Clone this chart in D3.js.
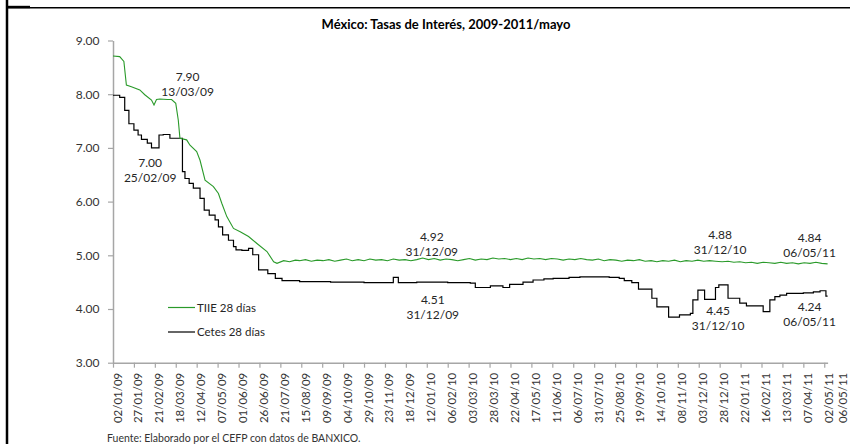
<!DOCTYPE html>
<html>
<head>
<meta charset="utf-8">
<script src="https://cdn.jsdelivr.net/npm/d3@7"></script>
<style>
  body { margin: 0; background: #fff; }
  svg { display: block; font-family: Lato, "Liberation Sans", sans-serif; }
</style>
</head>
<body>
<script>
// etiquetas del eje x (cada 25 días) y la última fecha del periodo
const tickLabels = ["02/01/09","27/01/09","21/02/09","18/03/09","12/04/09","07/05/09","01/06/09","26/06/09",
  "21/07/09","15/08/09","09/09/09","04/10/09","29/10/09","23/11/09","18/12/09","12/01/10","06/02/10",
  "03/03/10","28/03/10","22/04/10","17/05/10","11/06/10","06/07/10","31/07/10","25/08/10","19/09/10",
  "14/10/10","08/11/10","03/12/10","28/12/10","22/01/11","16/02/11","13/03/11","07/04/11","02/05/11"];
const lastLabel = "06/05/11";
const yTicks = [3, 4, 5, 6, 7, 8, 9];

// TIIE 28 días
const tiie = [
  ["02/01/09",8.71],["10/01/09",8.70],["15/01/09",8.61],["18/01/09",8.17],["24/01/09",8.14],["03/02/09",8.08],
  ["09/02/09",7.99],["17/02/09",7.89],["20/02/09",7.80],["23/02/09",7.90],["27/02/09",7.91],["08/03/09",7.90],
  ["13/03/09",7.90],["18/03/09",7.83],["21/03/09",7.52],["23/03/09",7.18],["31/03/09",7.15],["04/04/09",7.05],
  ["12/04/09",6.93],["16/04/09",6.77],["22/04/09",6.40],["02/05/09",6.28],["08/05/09",6.15],["12/05/09",5.97],
  ["18/05/09",5.72],["26/05/09",5.50],["03/06/09",5.44],["13/06/09",5.35],["23/06/09",5.22],["05/07/09",5.07],
  ["13/07/09",4.88],["17/07/09",4.85],["25/07/09",4.90],["01/08/09",4.88],["08/08/09",4.91],["13/08/09",4.90],
  ["20/08/09",4.92],["27/08/09",4.89],["03/09/09",4.91],["10/09/09",4.90],["17/09/09",4.92],["24/09/09",4.89],
  ["01/10/09",4.91],["08/10/09",4.93],["15/10/09",4.90],["22/10/09",4.92],["29/10/09",4.90],["05/11/09",4.93],
  ["12/11/09",4.91],["19/11/09",4.92],["26/11/09",4.90],["03/12/09",4.93],["10/12/09",4.91],["17/12/09",4.92],
  ["24/12/09",4.90],["31/12/09",4.92],["07/01/10",4.95],["14/01/10",4.92],["21/01/10",4.94],["28/01/10",4.91],
  ["04/02/10",4.93],["11/02/10",4.92],["18/02/10",4.90],["25/02/10",4.92],["04/03/10",4.94],["11/03/10",4.91],
  ["18/03/10",4.93],["25/03/10",4.92],["01/04/10",4.95],["08/04/10",4.93],["15/04/10",4.94],["22/04/10",4.92],
  ["29/04/10",4.94],["06/05/10",4.92],["13/05/10",4.95],["20/05/10",4.93],["27/05/10",4.94],["03/06/10",4.92],
  ["10/06/10",4.94],["17/06/10",4.93],["24/06/10",4.91],["01/07/10",4.93],["08/07/10",4.92],["15/07/10",4.94],
  ["22/07/10",4.92],["29/07/10",4.91],["05/08/10",4.93],["12/08/10",4.90],["19/08/10",4.92],["26/08/10",4.91],
  ["02/09/10",4.89],["09/09/10",4.91],["16/09/10",4.90],["23/09/10",4.92],["30/09/10",4.89],["07/10/10",4.90],
  ["14/10/10",4.88],["21/10/10",4.90],["28/10/10",4.89],["04/11/10",4.91],["11/11/10",4.88],["18/11/10",4.90],
  ["25/11/10",4.89],["02/12/10",4.91],["09/12/10",4.89],["16/12/10",4.90],["23/12/10",4.89],["31/12/10",4.88],
  ["07/01/11",4.89],["14/01/11",4.87],["21/01/11",4.88],["28/01/11",4.86],["04/02/11",4.87],["11/02/11",4.85],
  ["18/02/11",4.87],["25/02/11",4.86],["04/03/11",4.85],["11/03/11",4.87],["18/03/11",4.85],["25/03/11",4.86],
  ["01/04/11",4.84],["08/04/11",4.86],["15/04/11",4.85],["22/04/11",4.87],["29/04/11",4.85],["06/05/11",4.84]
];

// Cetes 28 días (escalonado)
const cetes = [
  ["02/01/09",7.98],["10/01/09",7.94],["16/01/09",7.70],["21/01/09",7.45],["27/01/09",7.33],["01/02/09",7.24],
  ["05/02/09",7.16],["12/02/09",7.09],["17/02/09",7.00],["26/02/09",7.24],["03/03/09",7.25],["11/03/09",7.18],
  ["26/03/09",6.56],["29/03/09",6.43],["03/04/09",6.34],["08/04/09",6.25],["16/04/09",6.06],["21/04/09",5.84],
  ["27/04/09",5.75],["04/05/09",5.66],["08/05/09",5.53],["13/05/09",5.38],["20/05/09",5.28],["26/05/09",5.16],
  ["29/05/09",5.10],["05/06/09",5.09],["13/06/09",5.13],["18/06/09",5.01],["25/06/09",4.73],["06/07/09",4.66],
  ["15/07/09",4.57],["23/07/09",4.53],["13/08/09",4.51],["19/09/09",4.50],["29/10/09",4.49],["03/12/09",4.59],
  ["09/12/09",4.49],["31/12/09",4.50],["06/02/10",4.49],["05/03/10",4.48],["11/03/10",4.40],["29/03/10",4.43],
  ["13/04/10",4.40],["21/04/10",4.46],["07/05/10",4.50],["19/05/10",4.54],["01/06/10",4.56],["12/06/10",4.57],
  ["01/07/10",4.59],["14/07/10",4.60],["18/08/10",4.59],["30/08/10",4.57],["05/09/10",4.53],["14/09/10",4.49],
  ["22/09/10",4.37],["08/10/10",4.20],["14/10/10",4.04],["28/10/10",3.85],["10/11/10",3.89],["23/11/10",3.92],
  ["26/11/10",4.17],["02/12/10",4.35],["10/12/10",4.18],["23/12/10",4.40],["27/12/10",4.45],["07/01/11",4.20],
  ["21/01/11",4.11],["29/01/11",4.06],["18/02/11",3.95],["26/02/11",4.17],["04/03/11",4.23],["10/03/11",4.26],
  ["18/03/11",4.29],["07/04/11",4.30],["19/04/11",4.32],["27/04/11",4.34],["04/05/11",4.24],["06/05/11",4.24]
];

// etiquetas de datos
const notes = [
  ["7.90","13/03/09",7.90],["7.00","25/02/09",7.00],["4.92","31/12/09",4.92],["4.51","31/12/09",4.51],
  ["4.88","31/12/10",4.88],["4.84","06/05/11",4.84],["4.45","31/12/10",4.45],["4.24","06/05/11",4.24]
];
// desplazamiento de cada etiqueta respecto a su punto [dx, dy de la primera línea]
const noteOffsets = [[16,-19],[-8,19],[15,-19],[16,22],[-2,-23],[-18,-22],[-4,30],[-18,15]];

const W = 850, H = 444;
const parse = d3.utcParse("%d/%m/%y");

const svg = d3.select("body").append("svg").attr("width", W).attr("height", H);

// marco
svg.append("line").attr("x1", 7).attr("x2", 7).attr("y1", 0).attr("y2", H)
  .attr("stroke", "#000").attr("stroke-width", 2.5);
svg.append("line").attr("x1", 7).attr("x2", W).attr("y1", 7.8).attr("y2", 7.8)
  .attr("stroke", "#000").attr("stroke-width", 1.6);
svg.append("line").attr("x1", 7).attr("x2", 30).attr("y1", 7).attr("y2", 7)
  .attr("stroke", "#000").attr("stroke-width", 2.4);

var x = d3.scaleUtc()
  .domain([parse(tickLabels[0]), parse(lastLabel)])
  .range([113, 827.6]);
var y = d3.scaleLinear().domain([3, 9]).range([362.7, 40.5]);

// título
svg.append("text").attr("x", 446).attr("y", 28.5).attr("text-anchor", "middle")
  .style("font-size", "13px").style("font-weight", "bold").attr("fill", "#000")
  .text("México: Tasas de Interés, 2009-2011/mayo");

// eje y
var gy = svg.append("g").attr("transform", "translate(113,0)")
  .call(d3.axisLeft(y).tickValues(yTicks).tickFormat(d3.format(".2f")).tickSize(5).tickSizeOuter(0).tickPadding(8.5));
gy.select(".domain").attr("stroke", "#a6a6a6").attr("stroke-width", 1.5);
gy.selectAll(".tick line").attr("stroke", "#a6a6a6").attr("stroke-width", 1.2);
gy.selectAll(".tick text").style("font-size", "12px").attr("fill", "#333").style("font-family", "Lato, sans-serif");

// eje x
var tickDates = tickLabels.map(parse);
var gx = svg.append("g").attr("transform", "translate(0,362.7)")
  .call(d3.axisBottom(x).tickValues(tickDates).tickFormat((d, i) => tickLabels[i]).tickSize(5).tickSizeOuter(0));
gx.select(".domain").attr("stroke", "#a6a6a6").attr("stroke-width", 1.5);
gx.selectAll(".tick line").attr("stroke", "#a6a6a6").attr("stroke-width", 1.2);
gx.selectAll(".tick text")
  .attr("transform", "rotate(-90)").attr("x", -10).attr("y", 8).attr("dy", 0)
  .style("text-anchor", "end").style("font-size", "11.5px").attr("fill", "#333")
  .style("font-family", "Lato, sans-serif");

// última etiqueta, un intervalo después del último tick (ajustada al borde)
var step = x(tickDates[1]) - x(tickDates[0]);
svg.append("text")
  .attr("transform", "translate(" + (x(tickDates[tickDates.length - 1]) + step) + ",362.7) rotate(-90)")
  .attr("x", -10).attr("y", 2).attr("text-anchor", "end")
  .style("font-size", "11.5px").attr("fill", "#333").text(lastLabel);

// series
var lineTiie = d3.line().x(d => x(parse(d[0]))).y(d => y(d[1]));
var lineCetes = d3.line().x(d => x(parse(d[0]))).y(d => y(d[1])).curve(d3.curveStepAfter);

svg.append("path").datum(cetes).attr("d", lineCetes)
  .attr("fill", "none").attr("stroke", "#000").attr("stroke-width", 1.2);
svg.append("path").datum(tiie).attr("d", lineTiie)
  .attr("fill", "none").attr("stroke", "#2a9a2a").attr("stroke-width", 1.1);

// etiquetas de datos
notes.forEach(function(n, i) {
  var px = x(parse(n[1])) + noteOffsets[i][0];
  var py = y(n[2]) + noteOffsets[i][1];
  var t = svg.append("text").attr("text-anchor", "middle")
    .style("font-size", "12px").attr("fill", "#262626");
  t.append("tspan").attr("x", px).attr("y", py).text(n[0]);
  t.append("tspan").attr("x", px).attr("y", py + 15).text(n[1]);
});

// leyenda
var legend = [["TIIE 28 días", "#2a9a2a"], ["Cetes 28 días", "#000"]];
legend.forEach(function(l, i) {
  var ly = 307.5 + i * 24.5;
  svg.append("line").attr("x1", 168).attr("x2", 195).attr("y1", ly).attr("y2", ly)
    .attr("stroke", l[1]).attr("stroke-width", 1.2);
  svg.append("text").attr("x", 197).attr("y", ly + 4).style("font-size", "11.5px")
    .attr("fill", "#262626").text(l[0]);
});

// fuente
svg.append("text").attr("x", 107).attr("y", 441.5).style("font-size", "10.5px")
  .attr("fill", "#333").text("Fuente: Elaborado por el CEFP con datos de BANXICO.");
</script>
</body>
</html>
